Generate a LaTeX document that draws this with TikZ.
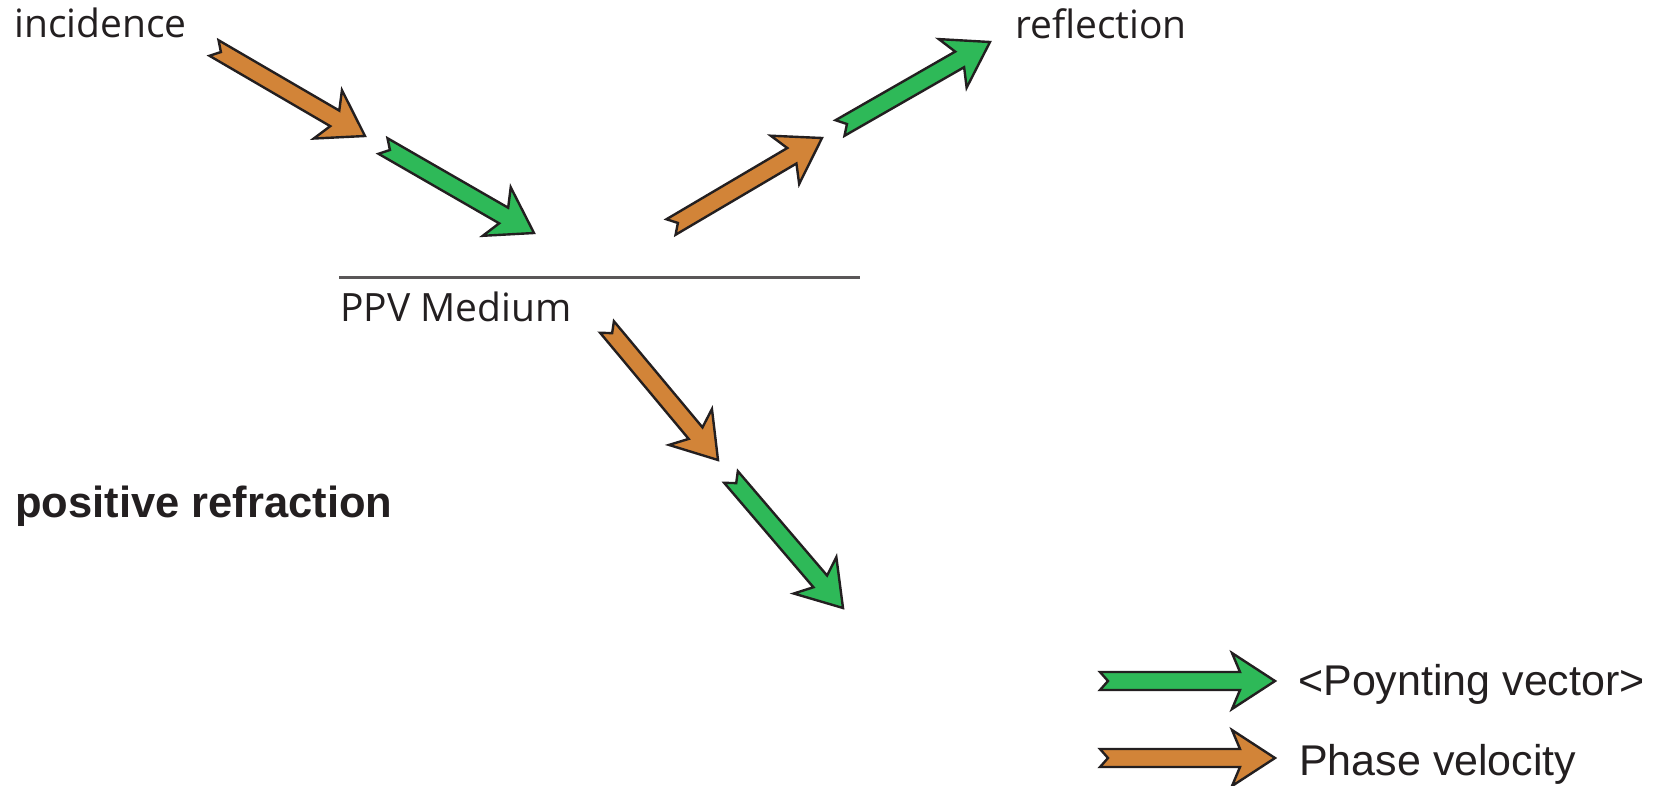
\documentclass[tikz,border=0pt]{standalone}
\usepackage{fontspec}
\setmainfont{Open Sans}
\newfontfamily\arialfont{Liberation Sans}
\usetikzlibrary{calc}
\definecolor{pvorange}{RGB}{210,132,56}
\definecolor{pvgreen}{RGB}{46,185,88}
\definecolor{ink}{RGB}{35,31,32}
\tikzset{
  fatarr/.style={draw=ink, line width=2.4pt, line join=miter},
  phase/.style={fatarr, fill=pvorange},
  poynt/.style={fatarr, fill=pvgreen},
  lbl/.style={anchor=base west, inner sep=0pt, text=ink, font=\fontsize{39}{46}\selectfont},
  leg/.style={anchor=base west, inner sep=0pt, text=ink, font=\arialfont\fontsize{43}{50}\selectfont},
}
\newcommand\fatarrow[3]{%
  \draw[#1] ($(#2)!9pt!90:(#3)$)
    -- ($(#3)!35pt!(#2)!9pt!90:(#3)$)
    -- ($(#3)!43pt!(#2)!28pt!90:(#3)$)
    -- (#3)
    -- ($(#3)!43pt!(#2)!28pt!-90:(#3)$)
    -- ($(#3)!35pt!(#2)!9pt!-90:(#3)$)
    -- ($(#2)!9pt!-90:(#3)$)
    -- ($(#2)!8pt!(#3)$)
    -- cycle;}
\begin{document}
\begin{tikzpicture}[x=1pt,y=-1pt]
\useasboundingbox (0,0) rectangle (1661,785);
% labels
\node[lbl] (inc) at (14,37) {incidence};
\node[lbl] (refl) at (1015,38) {reflection};
\node[lbl] (ppv) at (340,321) {PPV Medium};
\node[anchor=base west, inner sep=0pt, text=ink, font=\arialfont\bfseries\fontsize{43.5}{50}\selectfont] (pos) at (15,517) {positive refraction};
% interface
\coordinate (ifL) at (339,277.5);
\coordinate (ifR) at (860,277.5);
\draw[draw=ink!75, line width=2.2pt] (ifL) -- (ifR);
% incidence
\coordinate (a1t) at (214,48);   \coordinate (a1h) at (365,136);
\coordinate (a2t) at (383,146);  \coordinate (a2h) at (534,233);
% reflection
\coordinate (a3t) at (671,227);  \coordinate (a3h) at (822,138);
\coordinate (a4t) at (840,128);  \coordinate (a4h) at (990,42);
% refraction
\coordinate (a5t) at (607,327);  \coordinate (a5h) at (718,460);
\coordinate (a6t) at (731,477);  \coordinate (a6h) at (843,608);
% legend
\coordinate (l1t) at (1100,681); \coordinate (l1h) at (1275,681);
\coordinate (l2t) at (1100,758); \coordinate (l2h) at (1275,758);
\fatarrow{phase}{a1t}{a1h}
\fatarrow{poynt}{a2t}{a2h}
\fatarrow{phase}{a3t}{a3h}
\fatarrow{poynt}{a4t}{a4h}
\fatarrow{phase}{a5t}{a5h}
\fatarrow{poynt}{a6t}{a6h}
\fatarrow{poynt}{l1t}{l1h}
\fatarrow{phase}{l2t}{l2h}
\node[leg] (legp) at (1298,695) {<Poynting vector>};
\node[leg] (legv) at (1299,775) {Phase velocity};
\end{tikzpicture}
\end{document}
